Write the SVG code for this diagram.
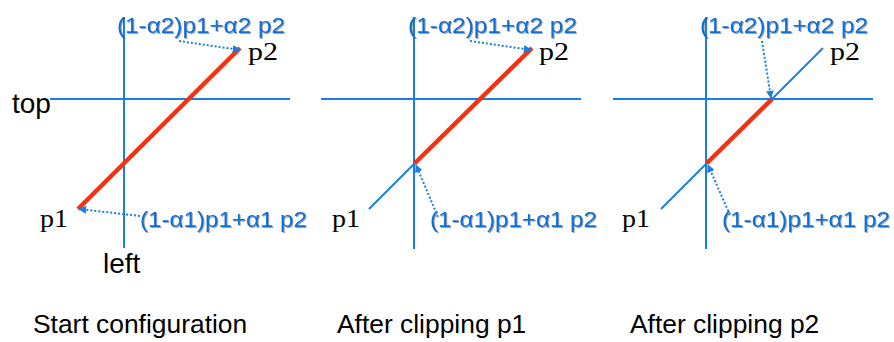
<svg xmlns="http://www.w3.org/2000/svg" width="894" height="342" viewBox="0 0 894 342">
<style>
.axis{stroke:#1a7fe0;stroke-width:2;fill:none}
.thin{stroke:#1a7fe0;stroke-width:2;fill:none}
.seg{stroke:#f23210;stroke-width:4.5;fill:none;stroke-linecap:butt}
.dot{stroke:#1a7fe0;stroke-width:2;stroke-dasharray:2 2;fill:none}
.lab{font-family:"Liberation Sans",Arial,sans-serif;font-size:22px;fill:#0e6fd2;filter:url(#sh)}
.pt{font-family:"Liberation Serif","Times New Roman",serif;font-size:26px;fill:#000}
.ax{font-family:"Liberation Sans",Arial,sans-serif;font-size:28px;fill:#000}
.cap{font-family:"Liberation Sans",Arial,sans-serif;font-size:26.4px;fill:#000}
</style>
<defs>
<marker id="ah" viewBox="0 0 10 10" refX="9" refY="5" markerWidth="4" markerHeight="4" orient="auto" markerUnits="strokeWidth">
<path d="M0,0 L10,5 L0,10 z" fill="#1a7fe0"/>
</marker>
<filter id="sh" x="-5%" y="-20%" width="110%" height="150%">
<feDropShadow dx="1" dy="1" stdDeviation="0.5" flood-color="#4a5a70" flood-opacity="0.55"/>
</filter>
</defs>

<g id="panel1">
<line class="axis" x1="50" y1="99" x2="290" y2="99"/>
<line class="axis" x1="124" y1="17" x2="124" y2="248"/>
<line class="seg" x1="78" y1="209" x2="240" y2="48"/>
<text class="ax" x="12" y="113">top</text>
<text class="ax" x="103" y="273">left</text>
<text class="pt" x="248" y="60" textLength="30" lengthAdjust="spacingAndGlyphs">p2</text>
<text class="pt" x="40" y="227" textLength="28" lengthAdjust="spacingAndGlyphs">p1</text>
<text class="lab" x="117" y="33" textLength="168" lengthAdjust="spacingAndGlyphs">(1-α2)p1+α2 p2</text>
<text class="lab" x="140" y="227" textLength="167" lengthAdjust="spacingAndGlyphs">(1-α1)p1+α1 p2</text>
<text class="cap" x="33" y="333">Start configuration</text>
</g>

<g id="panel2">
<line class="axis" x1="321" y1="99" x2="581" y2="99"/>
<line class="axis" x1="414" y1="17" x2="414" y2="249"/>
<line class="thin" x1="369" y1="209" x2="415" y2="163"/>
<line class="seg" x1="414.5" y1="163.5" x2="532" y2="48"/>
<text class="pt" x="539" y="60" textLength="30" lengthAdjust="spacingAndGlyphs">p2</text>
<text class="pt" x="332" y="227" textLength="28" lengthAdjust="spacingAndGlyphs">p1</text>
<text class="lab" x="408" y="33" textLength="169" lengthAdjust="spacingAndGlyphs">(1-α2)p1+α2 p2</text>
<text class="lab" x="430" y="227" textLength="167" lengthAdjust="spacingAndGlyphs">(1-α1)p1+α1 p2</text>
<text class="cap" x="337" y="333">After clipping p1</text>
</g>

<g id="panel3">
<line class="axis" x1="613" y1="99" x2="873" y2="99"/>
<line class="axis" x1="706" y1="17" x2="706" y2="249"/>
<line class="thin" x1="661" y1="209" x2="707" y2="163"/>
<line class="thin" x1="772" y1="99" x2="823" y2="48"/>
<line class="seg" x1="706.5" y1="163.5" x2="772" y2="99"/>
<text class="pt" x="830" y="60" textLength="30" lengthAdjust="spacingAndGlyphs">p2</text>
<text class="pt" x="622" y="227" textLength="28" lengthAdjust="spacingAndGlyphs">p1</text>
<text class="lab" x="700" y="33" textLength="168" lengthAdjust="spacingAndGlyphs">(1-α2)p1+α2 p2</text>
<text class="lab" x="722" y="227" textLength="168" lengthAdjust="spacingAndGlyphs">(1-α1)p1+α1 p2</text>
<text class="cap" x="630" y="333">After clipping p2</text>
</g>

<g id="connectors">
<line class="dot" x1="179" y1="41" x2="240" y2="50" marker-end="url(#ah)"/>
<line class="dot" x1="140" y1="216" x2="79" y2="209" marker-end="url(#ah)"/>
<line class="dot" x1="470" y1="41" x2="531" y2="50" marker-end="url(#ah)"/>
<line class="dot" x1="438" y1="217" x2="416" y2="165" marker-end="url(#ah)"/>
<line class="dot" x1="762" y1="41" x2="771" y2="98" marker-end="url(#ah)"/>
<line class="dot" x1="730" y1="215" x2="708" y2="165" marker-end="url(#ah)"/>
</g>
</svg>
